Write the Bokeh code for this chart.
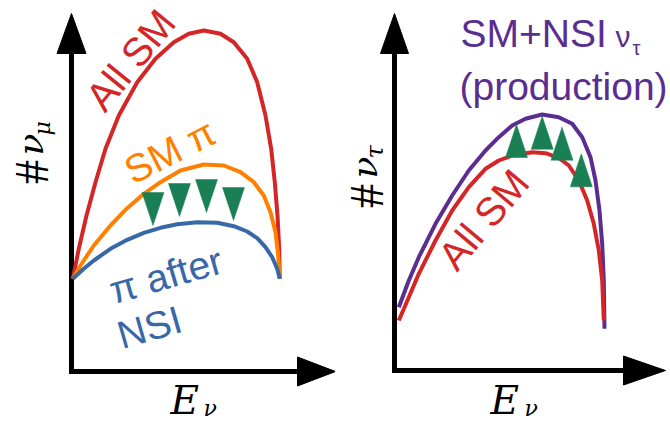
import math
from bokeh.plotting import figure
from bokeh.layouts import row
from bokeh.models import Label, Range1d
from bokeh.embed import file_html
from bokeh.resources import INLINE

# ---------------- data (arbitrary units; E = neutrino energy, N = number of neutrinos) -------------
# left panel: nu_mu
mu_all_sm_E = [0.13, 0.73, 1.5, 2.4, 3.4, 4.73, 6.57, 8.4, 10.23, 11.73, 13.23, 14.9, 16.23,
               17.57, 18.57, 19.4, 19.97, 20.33, 20.6, 20.77, 20.83]
mu_all_sm_N = [9.27, 12.27, 15.6, 18.93, 22.27, 25.6, 28.93, 31.27, 32.93, 33.77, 34.1, 33.77, 32.93,
               31.27, 28.93, 25.6, 22.27, 18.93, 15.6, 12.27, 9.27]

mu_sm_pi_E = [0.13, 0.9, 2.23, 3.9, 5.57, 7.23, 8.9, 10.9, 13.23, 15.23, 16.9, 18.23, 19.23,
              19.9, 20.4, 20.67, 20.83]
mu_sm_pi_N = [9.27, 10.6, 12.6, 14.6, 16.33, 17.77, 18.93, 20.1, 20.7, 20.6, 19.93, 18.93, 17.6,
              15.93, 13.93, 11.6, 9.27]

mu_pi_nsi_E = [0.13, 1.23, 2.23, 3.9, 5.57, 7.23, 8.9, 10.57, 12.57, 14.57, 16.23, 17.57, 18.57,
               19.4, 20.07, 20.57, 20.83]
mu_pi_nsi_N = [9.27, 10.27, 11.1, 12.27, 13.17, 13.87, 14.37, 14.73, 14.93, 14.87, 14.53, 14.0, 13.33,
               12.43, 11.43, 10.27, 9.27]

mu_deficit_E = [8.15, 10.8, 13.5, 16.2]
mu_deficit_N = [14.6, 15.5, 15.9, 15.1]

# right panel: nu_tau
tau_nsi_E = [0.23, 1.23, 2.23, 3.9, 5.57, 7.23, 8.9, 10.23, 11.57, 12.9, 14.57, 16.23, 17.57,
             18.57, 19.4, 19.9, 20.3, 20.57, 20.73, 20.8]
tau_nsi_N = [6.33, 9.0, 11.33, 14.67, 17.5, 20.0, 22.0, 23.33, 24.5, 25.17, 25.6, 25.33, 24.67,
             23.33, 21.33, 19.0, 16.0, 12.67, 9.0, 4.17]

tau_all_sm_E = [0.23, 1.23, 2.23, 3.9, 5.57, 7.23, 8.9, 10.23, 11.57, 13.57, 14.9, 16.23, 17.23,
                18.23, 19.07, 19.73, 20.23, 20.57, 20.73]
tau_all_sm_N = [5.0, 7.33, 9.67, 13.0, 16.0, 18.33, 20.17, 21.0, 21.5, 21.83, 21.73, 21.27, 20.5,
                19.0, 17.0, 14.67, 12.0, 9.0, 5.0]

tau_excess_E = [12.0, 14.57, 16.55, 18.48]
tau_excess_N = [24.6, 25.43, 24.33, 21.67]

# ---------------- styles ----------------
RED = "#d42626"
ORANGE = "#ff8000"
BLUE = "#3868a8"
PURPLE = "#5a2d91"
GREEN = "#1b7f55"
SANS = "Liberation Sans"
SERIF = "DejaVu Serif"
TSERIF = "Liberation Serif"
W, H = 335, 423
PX = 10.0  # screen pixels per data unit


def make_fig(x0, x1, y0, y1):
    p = figure(width=W, height=H, x_range=Range1d(x0, x1), y_range=Range1d(y0, y1),
               output_backend="svg", toolbar_location=None,
               x_axis_type=None, y_axis_type=None, min_border=0)
    p.outline_line_color = None
    p.xgrid.visible = False
    p.ygrid.visible = False
    return p


def axes_arrows(p, e0, n0, e_tip, n_tip, head_len_e, head_len_n, half_e, half_n):
    p.segment(x0=[e0], y0=[n0 - 0.25], x1=[e0], y1=[n_tip - head_len_n + 0.3],
              line_color="black", line_width=5)
    p.patch(x=[e0 - half_e, e0 + half_e, e0], y=[n_tip - head_len_n, n_tip - head_len_n, n_tip],
            fill_color="black", line_color="black", line_width=1)
    p.segment(x0=[e0 - 0.25], y0=[n0], x1=[e_tip - head_len_e + 0.3], y1=[n0],
              line_color="black", line_width=5)
    p.patch(x=[e_tip - head_len_e, e_tip - head_len_e, e_tip], y=[n0 - half_n, n0 + half_n, n0],
            fill_color="black", line_color="black", line_width=1)


def triangles(p, es, ns, down, color, w=2.2, h=3.3):
    xs, ys = [], []
    for e, n in zip(es, ns):
        base = n + h if down else n - h
        xs.append([e - w / 2, e + w / 2, e])
        ys.append([base, base, n])
    p.patches(xs=xs, ys=ys, fill_color=color, line_color=color, line_width=0.5)


def lab(p, x, y, text, size, color="black", angle=0.0, font=SANS, style="normal"):
    th = math.radians(angle)
    d = 0.3 * size / PX  # baseline correction (text is drawn ~0.3em low)
    p.add_layout(Label(x=x - math.sin(th) * d, y=y + math.cos(th) * d, text=text,
                       text_font=font, text_font_size=f"{size}px",
                       text_color=color, angle=th, text_font_style=style,
                       text_align="left", text_baseline="alphabetic"))


# ---------------- left panel ----------------
p1 = make_fig(-7.1, 26.4, -5.2, 37.1)
axes_arrows(p1, 0.0, 0.0, 26.4, 35.8, 3.8, 4.0, 1.45, 1.45)
p1.line(mu_all_sm_E, mu_all_sm_N, line_color=RED, line_width=4, line_join="round")
p1.line(mu_sm_pi_E, mu_sm_pi_N, line_color=ORANGE, line_width=4, line_join="round")
p1.line(mu_pi_nsi_E, mu_pi_nsi_N, line_color=BLUE, line_width=4, line_join="round")
triangles(p1, mu_deficit_E, mu_deficit_N, True, GREEN)

lab(p1, 3.2, 25.9, "All SM", 40, RED, 51)
lab(p1, 6.1, 18.8, "SM \u03c0", 39, ORANGE, 27)
lab(p1, 4.2, 6.9, "\u03c0 after", 39, BLUE, 16)
lab(p1, 5.0, 2.4, "NSI", 39, BLUE, 16)

lab(p1, -2.6, 18.75, "#", 48, "black", 90, TSERIF)
lab(p1, -3.0, 21.6, "\u03bd", 36, "black", 90, SERIF, "italic")
lab(p1, -2.2, 23.6, "\u03bc", 22, "black", 90, SERIF, "italic")
lab(p1, 9.9, -4.1, "E", 39, "black", 0, SERIF, "italic")
lab(p1, 13.2, -4.4, "\u03bd", 22, "black", 0, SERIF, "italic")

# ---------------- right panel ----------------
p2 = make_fig(-6.1, 27.4, -5.3, 37.0)
axes_arrows(p2, -0.2, 0.0, 26.9, 35.7, 4.2, 4.0, 1.4, 1.45)
p2.line(tau_nsi_E, tau_nsi_N, line_color=PURPLE, line_width=4, line_join="round")
p2.line(tau_all_sm_E, tau_all_sm_N, line_color=RED, line_width=4, line_join="round")
triangles(p2, tau_excess_E, tau_excess_N, False, GREEN)

lab(p2, 6.4, 32.57, "SM+NSI", 39, PURPLE)
lab(p2, 21.9, 32.5, "\u03bd", 30, PURPLE)
lab(p2, 23.6, 31.7, "\u03c4", 20, PURPLE)
lab(p2, 6.3, 27.2, "(production)", 39, PURPLE)
lab(p2, 5.9, 9.9, "All SM", 40, RED, 50)

lab(p2, -1.6, 16.25, "#", 48, "black", 90, TSERIF)
lab(p2, -2.1, 19.2, "\u03bd", 36, "black", 90, SERIF, "italic")
lab(p2, -1.4, 21.2, "\u03c4", 24, "black", 90, SERIF, "italic")
lab(p2, 9.4, -4.2, "E", 39, "black", 0, SERIF, "italic")
lab(p2, 12.8, -4.5, "\u03bd", 22, "black", 0, SERIF, "italic")

layout = row(p1, p2)
open("out.html", "w").write(file_html(layout, INLINE))
